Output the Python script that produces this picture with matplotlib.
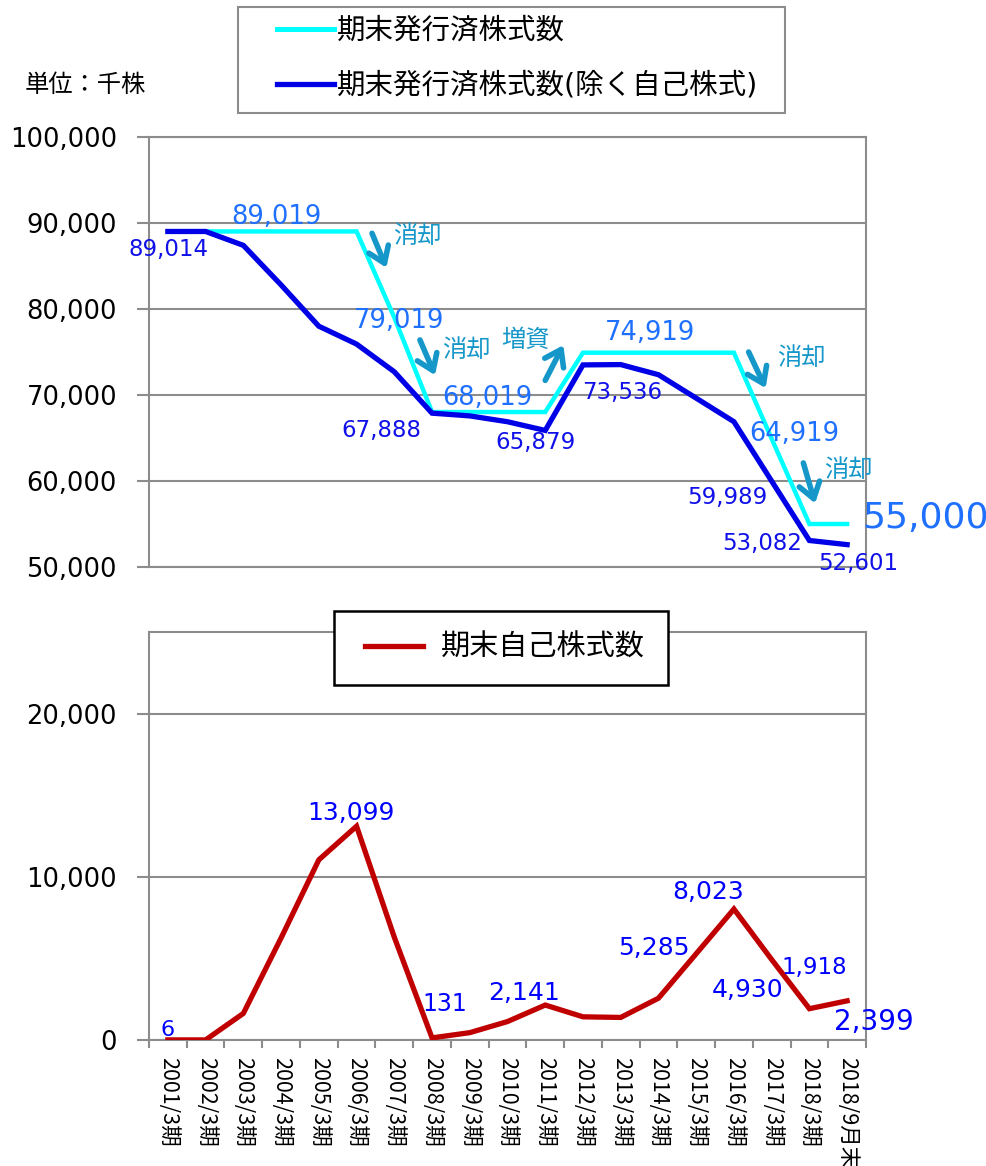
import matplotlib
matplotlib.use("Agg")
import matplotlib.pyplot as plt
from matplotlib.ticker import FuncFormatter, FixedLocator
from matplotlib.lines import Line2D
from matplotlib.patches import Rectangle

plt.rcParams['font.family'] = ['DejaVu Sans', 'Noto Sans CJK JP']

#--------------Data------------------------------------
periods = ['2001/3期', '2002/3期', '2003/3期', '2004/3期', '2005/3期', '2006/3期',
           '2007/3期', '2008/3期', '2009/3期', '2010/3期', '2011/3期', '2012/3期',
           '2013/3期', '2014/3期', '2015/3期', '2016/3期', '2017/3期', '2018/3期',
           '2018/9月末']
issued = [89019, 89019, 89019, 89019, 89019, 89019, 79019, 68019, 68019, 68019,
          68019, 74919, 74919, 74919, 74919, 74919, 64919, 55000, 55000]
outstanding = [89014, 89014, 87400, 82800, 78000, 75920, 72700, 67888, 67570, 66890,
               65879, 73500, 73536, 72360, 69634, 66896, 59989, 53082, 52601]
treasury = [6, 5, 1630, 6250, 11040, 13099, 6300, 131, 450, 1130,
            2141, 1420, 1383, 2560, 5285, 8023, 4930, 1918, 2399]

# labels: (index, text, dx, dy) offsets in pixels from the point
issued_labels = [(3, '89,019', -5, 14), (6, '79,019', 5, -4), (9, '68,019', -20, 14),
                 (13, '74,919', -8, 20), (16, '64,919', 23, 5)]
outstanding_labels = [(0, '89,014', 1, -18), (7, '67,888', -51, -17), (10, '65,879', -10, -12),
                      (12, '73,536', 1, -28), (16, '59,989', -44, -16), (17, '53,082', -47, -3),
                      (18, '52,601', 11, -19)]
treasury_labels = [(0, '6', 0, 10, 16), (5, '13,099', -6, 13, 18), (7, '131', 13, 34, 17),
                   (10, '2,141', -21, 12, 18), (14, '5,285', -42, 6, 18), (15, '8,023', -26, 17, 18),
                   (16, '4,930', -24, -30, 18), (17, '1,918', 5, 41, 16.5), (18, '2,399', 27, -21, 20)]

# remarks: (text, tail x, tail y, head x, head y, text x, text y)
remarks = [('消却', 5.41, 88800, 5.79, 84800, 6.61, 88500),
           ('消却', 6.68, 76400, 7.08, 72300, 7.91, 75200),
           ('増資', 10.0, 71700, 10.48, 75800, 9.47, 76400),
           ('消却', 15.39, 75000, 15.84, 70800, 16.79, 74300),
           ('消却', 16.84, 62100, 17.15, 57400, 18.04, 61300)]

#--------------Style------------------------------------
c_issued = '#00FFFF'
c_out = '#0000E6'
c_treas = '#C00000'
c_lab1 = '#1F70FF'
c_lab2 = '#1010E8'
c_note = '#1597C9'
gray = '#8C8C8C'
x = list(range(len(periods)))
comma = FuncFormatter(lambda v, p: f'{int(v):,}')
W, H = 987, 1166

fig = plt.figure(figsize=(9.87, 11.66), dpi=100)
ax1 = fig.add_axes([149/W, 1-567/H, 717/W, 430/H])
ax2 = fig.add_axes([149/W, 1-1040/H, 717/W, 408/H])

for ax in (ax1, ax2):
    ax.set_xlim(-0.5, len(periods)-0.5)
    for s in ax.spines.values():
        s.set_color(gray)
        s.set_linewidth(1.5)
    ax.grid(axis='y', color=gray, lw=1.5)
    ax.set_axisbelow(True)
    ax.yaxis.set_major_formatter(comma)
    ax.tick_params(axis='y', length=9, width=1.5, color=gray, labelsize=18.5, pad=14)

#--------------Top chart------------------------------------
ax1.plot(x, issued, color=c_issued, lw=3.2, solid_joinstyle='miter', zorder=3)
ax1.plot(x, outstanding, color=c_out, lw=3.8, solid_joinstyle='miter', zorder=4)
ax1.set_ylim(50000, 100000)
ax1.set_yticks(range(50000, 100001, 10000))
ax1.tick_params(axis='x', which='both', length=0, labelbottom=False)

for i, t, dx, dy in issued_labels:
    ax1.annotate(t, (i, issued[i]), xytext=(dx, dy), textcoords='offset pixels',
                 ha='center', va='center', color=c_lab1, fontsize=18.5, zorder=6)
ax1.annotate('55,000', (18, issued[18]), xytext=(78, 6), textcoords='offset pixels',
             ha='center', va='center', color=c_lab1, fontsize=26, zorder=6,
             annotation_clip=False)
for i, t, dx, dy in outstanding_labels:
    ax1.annotate(t, (i, outstanding[i]), xytext=(dx, dy), textcoords='offset pixels',
                 ha='center', va='center', color=c_lab2, fontsize=16.5, zorder=6,
                 annotation_clip=False)

for t, x0, y0, x1, y1, tx, ty in remarks:
    ax1.annotate('', xy=(x1, y1), xytext=(x0, y0),
                 arrowprops=dict(arrowstyle='->,head_length=0.55,head_width=0.38',
                                 color=c_note, lw=4.0, mutation_scale=20, shrinkA=0, shrinkB=0),
                 zorder=7)
    ax1.text(tx, ty, t, color=c_note, fontsize=17.5, ha='center', va='center', zorder=7,
             family=['Noto Sans CJK JP'])

# legend box of the top chart
fig.patches.append(Rectangle((238/W, 1-113/H), (785-238)/W, 106/H, transform=fig.transFigure,
                             fill=False, edgecolor=gray, lw=1.5))
fig.legend(handles=[Line2D([], [], color=c_issued, lw=3.6), Line2D([], [], color=c_out, lw=3.8)],
           labels=['期末発行済株式数', '期末発行済株式数(除く自己株式)'],
           loc='center left', bbox_to_anchor=(277/W, 1-58/H), fontsize=20.5,
           frameon=False, borderpad=0, handlelength=2.0, handletextpad=0.1,
           labelspacing=0.95, borderaxespad=0)

fig.text(25/W, 1-85/H, '単位：千株', fontsize=17.5, va='center', ha='left',
         family=['Noto Sans CJK JP'])

#--------------Bottom chart------------------------------------
ax2.plot(x, treasury, color=c_treas, lw=3.8, solid_joinstyle='miter', zorder=3)
ax2.set_ylim(0, 25000)
ax2.set_yticks([0, 10000, 20000])
ax2.xaxis.set_major_locator(FixedLocator([i - 0.5 for i in range(len(periods)+1)]))
ax2.xaxis.set_minor_locator(FixedLocator(x))
ax2.set_xticks(x, periods, minor=True)
ax2.tick_params(axis='x', which='major', length=6, width=1.5, color=gray, labelbottom=False)
ax2.tick_params(axis='x', which='minor', length=0, pad=12)
for lb in ax2.get_xticklabels(minor=True):
    lb.set_rotation(270)
    lb.set_fontsize(15.5)
    lb.set_family(['Noto Sans CJK JP'])
    lb.set_ha('center')
    lb.set_va('top')

for i, t, dx, dy, fs in treasury_labels:
    ax2.annotate(t, (i, treasury[i]), xytext=(dx, dy), textcoords='offset pixels',
                 ha='center', va='center', color='#0000FF', fontsize=fs, zorder=6,
                 annotation_clip=False)

# legend box of the bottom chart
fig.patches.append(Rectangle((334/W, 1-685/H), (668-334)/W, 74/H, transform=fig.transFigure,
                             facecolor='white', edgecolor='black', lw=1.8, zorder=8))
leg2 = fig.legend(handles=[Line2D([], [], color=c_treas, lw=3.8)], labels=['期末自己株式数'],
                  loc='center left', bbox_to_anchor=(365/W, 1-648/H), fontsize=21,
                  frameon=False, borderpad=0, handlelength=2.0, handletextpad=0.6,
                  borderaxespad=0)
leg2.set_zorder(9)

fig.savefig('out.png', dpi=100)
